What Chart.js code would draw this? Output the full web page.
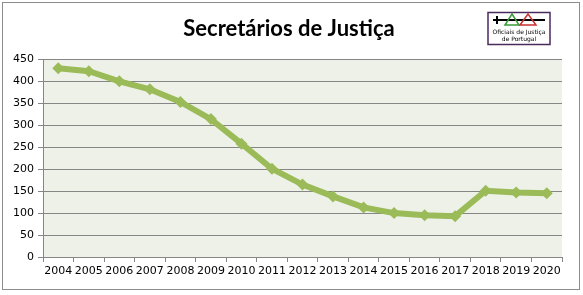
<!DOCTYPE html>
<html>
<head>
<meta charset="utf-8">
<script src="https://cdn.jsdelivr.net/npm/chart.js@4.4.0/dist/chart.umd.min.js"></script>
<style>
  html, body { margin: 0; padding: 0; background: #fff; }
  #wrap { width: 583px; height: 295px; }
</style>
</head>
<body>
<div id="wrap"><canvas id="myChart" width="583" height="295"></canvas></div>
<script>
const years = ['2004', '2005', '2006', '2007', '2008', '2009', '2010', '2011', '2012',
  '2013', '2014', '2015', '2016', '2017', '2018', '2019', '2020'];
const secretarios = [430, 423, 400, 382, 353, 314, 258, 201, 165,
  138, 113, 100, 95, 93, 151, 147, 145];
const chartTitle = 'Secretários de Justiça';
const logoLines = ['Oficiais de Justiça', 'de Portugal'];

// frame, plot background and the little logo box
const decor = {
  id: 'decor',
  beforeDraw(chart) {
    const { ctx, chartArea: a } = chart;
    ctx.save();
    ctx.fillStyle = '#fff';
    ctx.fillRect(0, 0, chart.width, chart.height);
    ctx.fillStyle = '#eef1e8';
    ctx.fillRect(a.left, a.top, a.right - a.left, a.bottom - a.top);
    ctx.strokeStyle = '#8c8c8c';
    ctx.lineWidth = 1;
    ctx.strokeRect(2.5, 2.5, 577, 287);
    ctx.restore();
  },
  afterDraw(chart) {
    const ctx = chart.ctx;
    ctx.save();
    ctx.strokeStyle = '#4b2a5e';
    ctx.lineWidth = 1.5;
    ctx.strokeRect(488, 12.5, 62, 32);
    // sword
    ctx.strokeStyle = '#000';
    ctx.lineWidth = 2;
    ctx.beginPath(); ctx.moveTo(493, 20); ctx.lineTo(545, 20); ctx.stroke();
    ctx.beginPath(); ctx.moveTo(497, 16); ctx.lineTo(497, 24); ctx.stroke();
    // triangles
    ctx.lineWidth = 1.5;
    ctx.strokeStyle = '#3a9a3a';
    ctx.beginPath(); ctx.moveTo(505, 25); ctx.lineTo(512, 14); ctx.lineTo(519, 25); ctx.closePath(); ctx.stroke();
    ctx.strokeStyle = '#c83232';
    ctx.beginPath(); ctx.moveTo(520, 25); ctx.lineTo(528, 14); ctx.lineTo(536, 25); ctx.closePath(); ctx.stroke();
    ctx.fillStyle = '#000';
    ctx.font = '6px "DejaVu Sans"';
    ctx.textAlign = 'center';
    ctx.textBaseline = 'middle';
    ctx.fillText(logoLines[0], 519, 32);
    ctx.fillText(logoLines[1], 519, 39);
    ctx.restore();
  }
};

const ctx = document.getElementById('myChart').getContext('2d');
const myChart = new Chart(ctx, {
  type: 'line',
  data: {
    labels: years,
    datasets: [{
      label: chartTitle,
      data: secretarios,
      borderColor: '#9bbb59',
      backgroundColor: '#9bbb59',
      borderWidth: 6,
      pointStyle: 'rectRot',
      pointRadius: 6,
      pointBorderWidth: 0,
      tension: 0
    }]
  },
  options: {
    responsive: false,
    animation: false,
    layout: { padding: { left: 3, right: 8, top: 0, bottom: 6 } },
    plugins: {
      legend: { display: false },
      tooltip: { enabled: false },
      title: {
        display: true,
        text: chartTitle,
        color: '#000',
        font: { family: 'Lato', size: 22, weight: 'bold' },
        padding: { top: 16, bottom: 17 }
      }
    },
    scales: {
      x: {
        offset: true,
        grid: { display: true, drawOnChartArea: false, offset: true, tickLength: 5, color: '#868686' },
        border: { color: '#868686' },
        ticks: { color: '#000', font: { family: 'DejaVu Sans', size: 11 }, maxRotation: 0, autoSkip: false, padding: 3 },
        afterFit(scale) { scale.height = 32; }
      },
      y: {
        min: 0,
        max: 450,
        ticks: { stepSize: 50, color: '#000', font: { family: 'DejaVu Sans', size: 11 }, padding: 4 },
        grid: { color: '#868686', tickLength: 5 },
        border: { color: '#868686' },
        afterFit(scale) { scale.width = 40; }
      },
      // empty right-hand spacer so the title centres like the original
      spacer: {
        position: 'right',
        min: 0,
        max: 450,
        grid: { display: false },
        border: { display: false },
        ticks: { display: false },
        afterFit(scale) { scale.width = 13; }
      }
    }
  },
  plugins: [decor]
});
</script>
</body>
</html>
